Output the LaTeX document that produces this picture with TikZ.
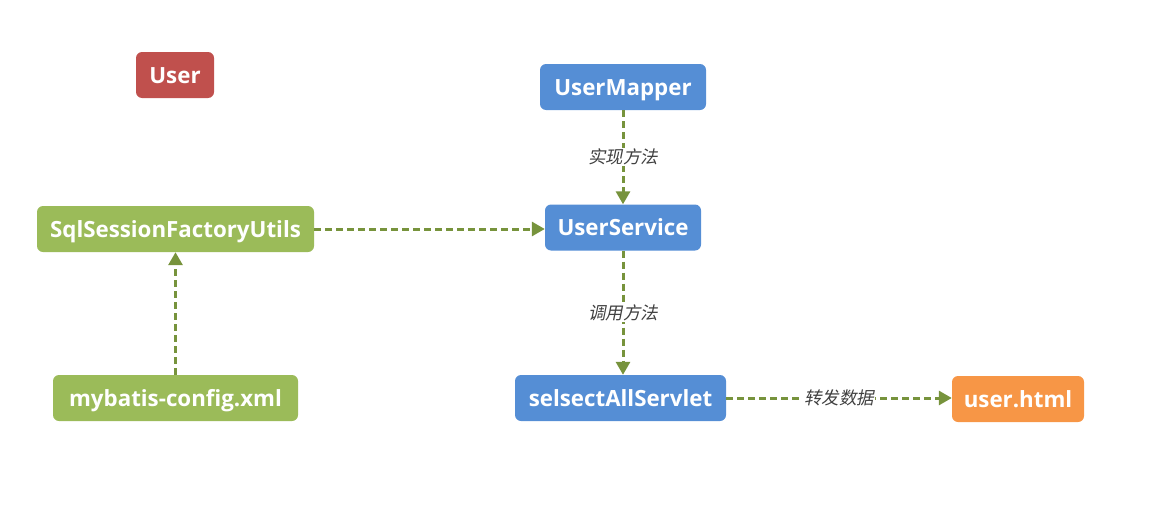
\documentclass[tikz,border=0pt]{standalone}
\usepackage{fontspec}
\setmainfont{Open Sans}
\newfontfamily\cjk[FakeSlant=0.2]{Noto Sans CJK SC}
\usetikzlibrary{arrows.meta}
\definecolor{cred}{HTML}{C0504D}
\definecolor{cblue}{HTML}{558ED5}
\definecolor{cgreen}{HTML}{9BBB59}
\definecolor{corange}{HTML}{F79646}
\definecolor{cline}{HTML}{77933C}
\definecolor{clabel}{HTML}{404040}
\begin{document}
\begin{tikzpicture}[x=1pt,y=-1pt,
  box/.style={rounded corners=6pt, text=white, font=\fontsize{22.3}{24}\selectfont\bfseries, minimum height=46pt, inner sep=0pt, text height=17.5pt, text depth=1.2pt, anchor=center},
  conn/.style={draw=cline, line width=3pt, dash pattern=on 7pt off 4pt, -{Triangle[length=13pt,width=14pt]}},
  lbl/.style={fill=white, text=clabel, font=\cjk\fontsize{17.5}{19}\selectfont, inner sep=1pt}]
\useasboundingbox (0,0) rectangle (1162,514);
\node[box, fill=cred, minimum width=78pt] (user) at (175,75) {User};
\node[box, fill=cblue, minimum width=166pt] (mapper) at (623,87) {UserMapper};
\node[box, fill=cgreen, minimum width=277pt] (sql) at (175.5,229) {SqlSessionFactoryUtils};
\node[box, fill=cblue, minimum width=156pt] (service) at (623,227.5) {UserService};
\node[box, fill=cgreen, minimum width=245pt] (mybatis) at (175.5,398) {mybatis-config.xml};
\node[box, fill=cblue, minimum width=211pt] (servlet) at (620.5,398) {selsectAllServlet};
\node[box, fill=corange, minimum width=132pt] (html) at (1018,399) {user.html};
\draw[conn] (mapper.south) -- node[lbl, pos=0.5] (l1) {实现方法} (service.north);
\draw[conn] (service.south) -- node[lbl, pos=0.5] (l2) {调用方法} (service.south |- servlet.north);
\draw[conn] (mybatis.north) -- (sql.south);
\draw[conn] (sql.east) -- (service.west |- sql.east);
\draw[conn] (servlet.east) -- node[lbl, pos=0.5] (l3) {转发数据} (html.west |- servlet.east);
\end{tikzpicture}
\end{document}
